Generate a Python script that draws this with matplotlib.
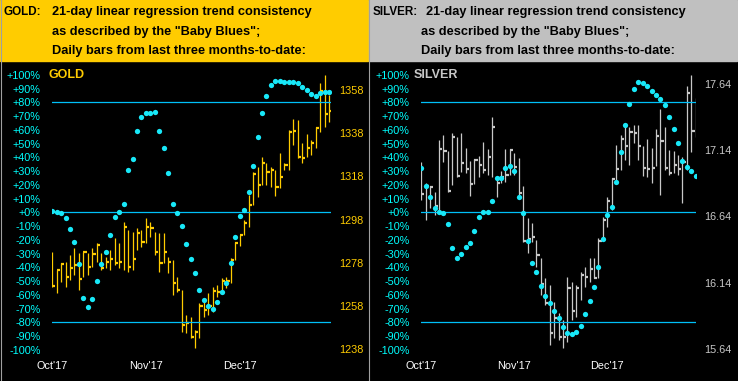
import matplotlib
matplotlib.use("Agg")
import matplotlib.pyplot as plt
from matplotlib.patches import Rectangle
from matplotlib.lines import Line2D
import numpy as np

plt.rcParams["font.family"] = ["Liberation Sans", "DejaVu Sans"]

W, H = 738, 381

# ---- data ----
gold_high = [1283.1, 1274.6, 1277.7, 1278.5, 1281.6, 1284.7, 1282.3, 1283.1, 1282.3, 1284.7,
             1287.0, 1282.3, 1280.8, 1283.9, 1289.3, 1287.0, 1297.0, 1293.2, 1292.4, 1293.9,
             1293.2, 1298.7, 1296.7, 1292.4, 1291.6, 1291.6, 1280.8, 1279.3, 1271.5, 1265.4,
             1253.8, 1253.0, 1246.8, 1259.2, 1260.7, 1263.8, 1266.9, 1267.7, 1270.8, 1271.5,
             1280.0, 1287.8, 1290.8, 1297.8, 1309.3, 1320.1, 1322.5, 1327.1, 1324.0, 1322.5,
             1320.9, 1328.6, 1324.3, 1339.5, 1344.4, 1344.1, 1333.3, 1337.6, 1334.8, 1341.0,
             1361.1, 1364.9, 1355.7]
gold_low = [1266.9, 1263.8, 1269.2, 1266.9, 1270.0, 1272.3, 1265.4, 1271.5, 1272.3, 1276.2,
            1278.5, 1274.6, 1275.4, 1274.6, 1276.9, 1275.4, 1274.6, 1273.9, 1274.6, 1283.9,
            1285.4, 1287.0, 1290.1, 1281.6, 1273.9, 1277.7, 1273.1, 1263.0, 1264.6, 1246.0,
            1245.3, 1243.0, 1238.3, 1243.0, 1253.0, 1253.8, 1255.3, 1262.3, 1264.6, 1266.1,
            1268.4, 1279.3, 1285.7, 1290.8, 1294.7, 1304.7, 1308.6, 1314.0, 1314.0, 1313.2,
            1308.9, 1312.4, 1320.9, 1320.9, 1332.5, 1326.3, 1324.0, 1327.1, 1327.9, 1331.0,
            1338.7, 1341.0, 1343.3]
gold_close = [1267.2, 1274.6, 1277.2, 1271.5, 1275.4, 1276.9, 1270.3, 1282.8, 1276.2, 1281.9,
              1286.2, 1275.4, 1278.5, 1279.6, 1277.7, 1278.5, 1294.7, 1276.2, 1279.9, 1291.6,
              1287.8, 1294.7, 1294.0, 1282.8, 1277.7, 1283.1, 1278.5, 1268.8, 1265.4, 1249.1,
              1250.2, 1243.7, 1246.0, 1257.9, 1256.1, 1257.9, 1264.9, 1264.6, 1269.5, 1269.5,
              1279.3, 1287.3, 1290.8, 1296.5, 1304.7, 1318.9, 1314.0, 1324.0, 1320.1, 1320.9,
              1313.2, 1317.5, 1323.2, 1338.7, 1339.0, 1327.1, 1326.6, 1331.0, 1333.3, 1340.5,
              1357.7, 1346.7, 1348.4]
gold_blues = [1.2, 0.4, -0.3, -3.9, -12.2, -21.4, -37.9, -62.2, -68.7, -63.1,
              -49.7, -37.9, -28.7, -16.3, -3.6, 0.0, 6.3, 30.5, 39.0, 58.9,
              69.1, 72.0, 72.0, 73.2, 59.4, 47.0, 28.8, 6.3, -0.3, -10.3,
              -23.3, -33.7, -44.4, -56.4, -63.8, -67.9, -70.5, -65.0, -57.7, -51.6,
              -37.1, -18.2, -2.4, 1.9, 15.0, 33.7, 55.0, 72.0, 84.8, 92.8,
              95.5, 95.7, 94.8, 94.8, 94.8, 94.0, 91.3, 89.2, 86.0, 84.8,
              86.5, 87.3, 87.5]

silver_high = [17.054, 16.890, 16.870, 16.827, 17.217, 17.255, 17.137, 17.273, 17.242, 17.273,
               17.154, 17.061, 17.074, 17.096, 17.205, 17.147, 17.393, 16.948, 16.983, 17.147,
               17.147, 17.117, 17.079, 16.870, 16.626, 16.590, 16.463, 16.324, 16.173, 16.123,
               15.997, 15.909, 15.859, 16.186, 16.148, 16.123, 16.218, 16.261, 16.324, 16.324,
               16.475, 16.638, 16.790, 16.928, 17.179, 17.255, 17.330, 17.318, 17.330, 17.330,
               17.172, 17.222, 17.154, 17.298, 17.449, 17.318, 17.142, 17.137, 17.104, 17.091,
               17.627, 17.708, 17.532]
silver_low = [16.764, 16.613, 16.701, 16.651, 16.664, 17.054, 16.827, 16.878, 16.940, 16.978,
              16.966, 16.794, 16.885, 16.940, 16.966, 16.953, 16.940, 16.789, 16.890, 16.903,
              16.953, 16.953, 16.802, 16.450, 16.362, 16.450, 16.261, 16.047, 15.972, 15.670,
              15.720, 15.708, 15.645, 15.695, 15.859, 15.884, 16.010, 16.110, 16.148, 16.173,
              16.173, 16.463, 16.563, 16.689, 16.903, 16.991, 17.066, 17.028, 17.192, 17.066,
              16.945, 16.935, 16.890, 17.021, 16.802, 16.991, 16.953, 16.966, 16.953, 16.744,
              16.991, 17.129, 17.242]
silver_close = [16.807, 16.870, 16.865, 16.722, 17.147, 17.137, 16.835, 17.237, 16.948, 17.041,
                16.996, 16.885, 17.066, 17.028, 16.991, 17.086, 17.313, 16.890, 16.935, 16.953,
                17.142, 17.016, 16.820, 16.458, 16.468, 16.483, 16.349, 16.130, 15.990, 15.758,
                15.871, 15.728, 15.728, 16.103, 15.929, 16.103, 16.198, 16.186, 16.244, 16.178,
                16.458, 16.613, 16.759, 16.923, 16.996, 17.225, 17.174, 17.275, 17.273, 17.174,
                17.008, 16.996, 17.008, 17.247, 17.212, 17.003, 16.966, 17.028, 16.996, 17.054,
                17.569, 17.288, 17.393]
silver_blues = [32.0, 19.4, 10.9, 2.9, 0.4, -0.3, -8.2, -25.7, -33.0, -30.5,
                -25.0, -22.1, -13.4, -3.2, 0.4, 0.4, 8.4, 25.2, 25.2, 32.4,
                33.7, 30.3, 11.3, -0.7, -20.6, -37.1, -43.2, -53.4, -60.9, -65.7,
                -71.6, -76.6, -83.2, -87.6, -88.5, -86.8, -82.7, -74.0, -64.5, -54.3,
                -39.8, -19.4, -2.0, 4.1, 21.8, 44.1, 63.5, 79.0, 89.7, 94.8,
                94.3, 92.1, 88.2, 85.5, 82.4, 78.3, 69.5, 60.6, 50.6, 37.5,
                33.2, 30.3, 26.6]

months = ["Oct'17", "Nov'17", "Dec'17"]
month_pos = [0, 21, 42]
pct_ticks = list(range(-100, 101, 10))
pct_labels = [("+%d%%" % v) if v >= 0 else ("%d%%" % v) for v in pct_ticks]
gold_price_ticks = [1238, 1258, 1278, 1298, 1318, 1338, 1358]
silver_price_ticks = [15.64, 16.14, 16.64, 17.14, 17.64]
header_lines = ['21-day linear regression trend consistency',
                'as described by the "Baby Blues";',
                'Daily bars from last three months-to-date:']

LINE_C = "#00C0F8"
DOT_C = "#18E8F8"
TOP, BOT = 62, 355          # plot box in pixels
HEAD_FS = 9.2


def px_rect(x0, y0, x1, y1):
    return [x0 / W, 1 - y1 / H, (x1 - x0) / W, (y1 - y0) / H]


def pct_at(y):
    # 0% sits at y=212.3, 1.375 px per percent
    return (212.3 - y) / 1.375


fig = plt.figure(figsize=(W / 100, H / 100), dpi=100, facecolor="black")


def panel(x0, x1, xlim, highs, lows, closes, blues, p_ref, p_ppx, p_ticks, p_fmt,
          bar_c, name, head_c, px0, name_x, head_x):
    # header band
    fig.patches.append(Rectangle((px0 / W, 1 - 61 / H), 368 / W, 61 / H,
                                 transform=fig.transFigure, color=head_c, zorder=0))
    fig.text((px0 + 4) / W, 1 - 15 / H, name + ":", fontsize=8.4, fontweight="bold",
             color="black", va="baseline")
    for k, txt in enumerate(header_lines):
        xx = head_x if k == 0 else x0
        fig.text(xx / W, 1 - (15 + 19.5 * k) / H, txt, fontsize=HEAD_FS,
                 fontweight="bold", color="black", va="baseline")

    # price axis carries the bars, labels on the right
    ax = fig.add_axes(px_rect(x0, TOP, x1, BOT))
    ax.set_facecolor("black")
    n = len(closes)
    xs = np.arange(n)
    ax.vlines(xs, lows, highs, color=bar_c, lw=0.9)
    ax.hlines(closes, xs, xs + 0.72, color=bar_c, lw=1.6)
    ax.set_xlim(*xlim)
    # p_ref sits at y=349 px, p_ppx px per price unit
    ax.set_ylim(p_ref + (349 - BOT) / p_ppx, p_ref + (349 - TOP) / p_ppx)
    ax.set_xticks(month_pos)
    ax.set_xticklabels(months)
    ax.tick_params(axis="x", length=0, pad=4, colors="white", labelsize=7.8)

    # percent axis carries the Baby Blues, labels on the left
    ax2 = ax.twinx()
    ax.yaxis.tick_right()
    ax.set_yticks(p_ticks)
    ax.set_yticklabels([p_fmt % v for v in p_ticks])
    ax.tick_params(axis="y", length=0, pad=6, colors=bar_c, labelsize=7.8)

    ax2.set_ylim(pct_at(BOT), pct_at(TOP))
    for lvl in (80, 0, -80):
        ax2.axhline(lvl, color=LINE_C, lw=0.9)
    ax2.plot(xs, blues, "o", color=DOT_C, ms=3.8, mew=0)
    ax2.yaxis.tick_left()
    ax2.set_yticks(pct_ticks)
    ax2.set_yticklabels(pct_labels)
    ax2.tick_params(axis="y", length=0, pad=8, colors="#00FFFF", labelsize=7.8)
    ax2.text(name_x, 100, name, color=bar_c, fontsize=9, fontweight="bold",
             va="center", ha="left")
    for a in (ax, ax2):
        for s in a.spines.values():
            s.set_visible(False)


panel(51.7, 331, (-0.1, 62.45), gold_high, gold_low, gold_close, gold_blues,
      1238, 2.1583, gold_price_ticks, "%d", "#FFCC00", "GOLD", "#FFCC00", 0, -0.8, 51.7)
panel(420.7, 696, (-0.13, 62.05), silver_high, silver_low, silver_close, silver_blues,
      15.64, 132.5, silver_price_ticks, "%.2f", "#C8C8C8", "SILVER", "#C0C0C0", 369, -1.8, 426.3)

# thin grey panel borders
for xb in (0.5, 368.5):
    fig.add_artist(Line2D([xb / W, xb / W], [0, 1], color="#A0A0A0", lw=0.8))

fig.savefig("out.png", dpi=100, facecolor="black")
